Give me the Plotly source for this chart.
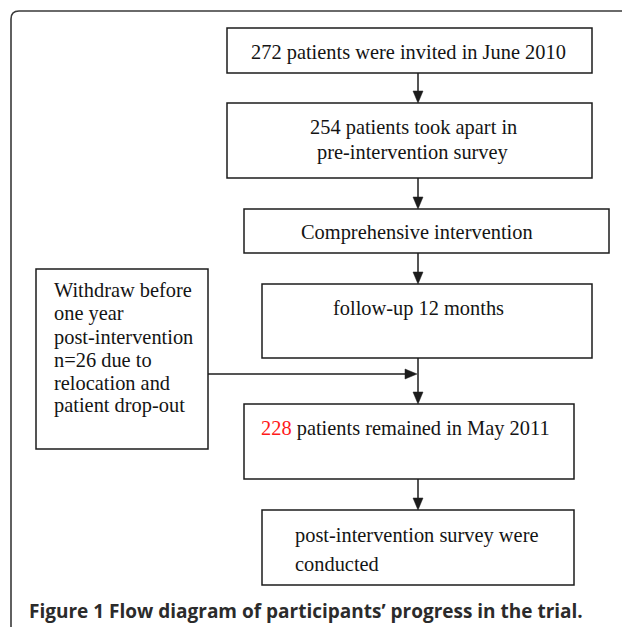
import plotly.graph_objects as go

# ---------------- content ----------------
step_texts = [
    ["272 patients were invited in June 2010"],
    ["254 patients took apart in", "pre-intervention survey"],
    ["Comprehensive intervention"],
    ["follow-up 12 months"],
    ["<span style='color:#ff1a1a'>228</span> patients remained in May 2011"],
    ["post-intervention survey were", "conducted"],
]
withdraw_texts = ["Withdraw before", "one year", "post-intervention",
                  "n=26 due to", "relocation and", "patient drop-out"]
caption_text = "<b>Figure 1 Flow diagram of participants’ progress in the trial.</b>"

# ---------------- geometry (pixel space of the 622x627 page) ----------------
W, H = 622, 627
step_boxes = [
    dict(x0=227, y0=28, x1=592, y1=73, tx=408, anchor="center", ty=[52]),
    dict(x0=227, y0=103, x1=592, y1=178, tx=413, anchor="center", ty=[127, 152]),
    dict(x0=244, y0=209, x1=609, y1=253, tx=417, anchor="center", ty=[232]),
    dict(x0=262, y0=284, x1=592, y1=358, tx=418, anchor="center", ty=[308]),
    dict(x0=244, y0=404, x1=574, y1=479, tx=259, anchor="left", ty=[428]),
    dict(x0=262, y0=510, x1=574, y1=585, tx=293, anchor="left", ty=[535, 564]),
]
side_box = dict(x0=36, y0=269, x1=208, y1=449, tx=52, anchor="left",
                ty=[290, 313, 337, 360, 383, 405])
spine_x = 418
side_arrow_y = 374

LINE = "#1c1c1c"
TEXT = "#141414"
SERIF = "Liberation Serif, Times New Roman, serif"

fig = go.Figure()
fig.add_trace(go.Scatter(x=[0, W], y=[0, H], mode="markers",
                         marker=dict(opacity=0), hoverinfo="skip", showlegend=False))

shapes = []
annotations = []

# outer frame with rounded top-left corner
shapes.append(dict(type="path", xref="x", yref="y",
                   path=f"M 11,{H} L 11,19 Q 11,11 19,11 L {W},11",
                   line=dict(color="#3a3a3a", width=1.6)))


def add_box(b, lines):
    shapes.append(dict(type="rect", xref="x", yref="y",
                       x0=b["x0"], y0=b["y0"], x1=b["x1"], y1=b["y1"],
                       line=dict(color=LINE, width=1.5), fillcolor="rgba(0,0,0,0)"))
    for txt, y in zip(lines, b["ty"]):
        annotations.append(dict(x=b["tx"], y=y, xref="x", yref="y", text=txt,
                                showarrow=False, xanchor=b["anchor"], yanchor="middle",
                                font=dict(family=SERIF, size=20.4, color=TEXT)))


def add_arrow(x0, y0, x1, y1, head_len=12, head_half=5):
    dx, dy = x1 - x0, y1 - y0
    L = (dx ** 2 + dy ** 2) ** 0.5
    ux, uy = dx / L, dy / L
    bx, by = x1 - ux * head_len, y1 - uy * head_len
    shapes.append(dict(type="line", xref="x", yref="y", x0=x0, y0=y0, x1=bx, y1=by,
                       line=dict(color=LINE, width=1.5)))
    px, py = -uy, ux
    p1 = (bx + px * head_half, by + py * head_half)
    p2 = (bx - px * head_half, by - py * head_half)
    shapes.append(dict(type="path", xref="x", yref="y",
                       path=f"M {x1},{y1} L {p1[0]},{p1[1]} L {p2[0]},{p2[1]} Z",
                       fillcolor=LINE, line=dict(color=LINE, width=0.5)))


for b, lines in zip(step_boxes, step_texts):
    add_box(b, lines)
add_box(side_box, withdraw_texts)

# vertical connectors between consecutive steps
for upper, lower in zip(step_boxes[:-1], step_boxes[1:]):
    add_arrow(spine_x, upper["y1"], spine_x, lower["y0"])

# side arrow from withdrawal box to the spine
add_arrow(side_box["x1"], side_arrow_y, spine_x - 1, side_arrow_y)

# caption
annotations.append(dict(x=27, y=611, xref="x", yref="y", text=caption_text,
                        showarrow=False, xanchor="left", yanchor="middle",
                        font=dict(family="Open Sans, sans-serif", size=19, color="#2b2b2b")))

fig.update_layout(
    width=W, height=H, autosize=False,
    margin=dict(l=0, r=0, t=0, b=0),
    paper_bgcolor="white", plot_bgcolor="white",
    xaxis=dict(range=[0, W], visible=False, fixedrange=True),
    yaxis=dict(range=[H, 0], visible=False, fixedrange=True),
    shapes=shapes, annotations=annotations, showlegend=False,
)

fig.write_html("out.html", config=dict(displayModeBar=False),
               post_script="document.body.style.margin='0';document.body.style.overflow='hidden';")
